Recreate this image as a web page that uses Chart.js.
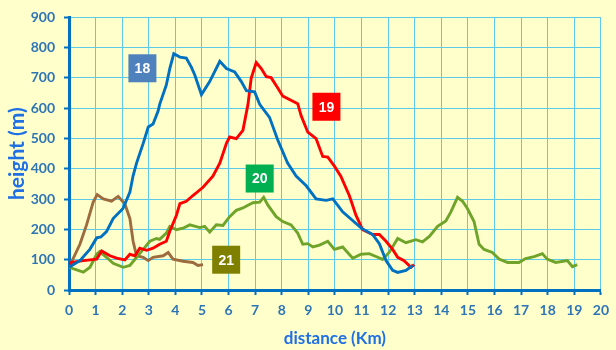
<!DOCTYPE html>
<html>
<head>
<meta charset="utf-8">
<title>Route profiles</title>
<script src="https://cdn.jsdelivr.net/npm/chart.js@4.4.1/dist/chart.umd.min.js"></script>
<style>
  html, body { margin: 0; padding: 0; background: #FFFFCC; }
  #wrap { width: 616px; height: 350px; }
</style>
</head>
<body>
<div id="wrap"><canvas id="profileChart" width="616" height="350"></canvas></div>
<script>
// =============================================
// DATA - distance (km) / height (m) per route
// =============================================
const dist18 = [0, 0.41, 0.79, 1.04, 1.2, 1.41, 1.66, 2.03, 2.29, 2.41, 2.54, 2.79, 2.98, 3.16, 3.35, 3.41, 3.66, 3.79, 3.94, 4.17, 4.41, 4.6, 4.73, 4.98, 5.29, 5.67, 5.92, 6.23, 6.48, 6.67, 6.98, 7.17, 7.54, 7.85, 8.22, 8.54, 8.92, 9.29, 9.67, 9.92, 10.29, 10.98, 11.42, 11.67, 11.92, 12.17, 12.36, 12.67, 12.92];
const height18 = [75, 97, 135, 172, 175, 193, 236, 269, 323, 377, 419, 484, 538, 548, 591, 613, 677, 731, 780, 769, 766, 736, 710, 645, 688, 755, 731, 720, 688, 658, 654, 613, 570, 495, 419, 376, 344, 301, 296, 301, 258, 205, 183, 153, 97, 65, 58, 65, 81];

const dist19 = [0, 0.1, 0.54, 1.04, 1.23, 1.54, 1.79, 2.1, 2.29, 2.48, 2.66, 2.92, 3.16, 3.41, 3.66, 3.79, 4.04, 4.17, 4.41, 4.66, 5.04, 5.41, 5.67, 5.92, 6.04, 6.29, 6.54, 6.73, 6.85, 7.04, 7.23, 7.42, 7.6, 7.85, 8.04, 8.29, 8.6, 8.73, 8.98, 9.29, 9.54, 9.73, 9.98, 10.22, 10.54, 10.79, 11.04, 11.42, 11.67, 11.92, 12.17, 12.36, 12.6, 12.86, 12.98];
const height19 = [85, 91, 97, 102, 129, 113, 105, 99, 118, 113, 138, 131, 138, 151, 161, 194, 247, 285, 293, 312, 339, 376, 419, 484, 505, 500, 527, 613, 699, 751, 731, 704, 701, 667, 640, 629, 615, 575, 521, 500, 441, 439, 409, 376, 312, 247, 199, 183, 183, 161, 134, 108, 97, 75, 84];

const dist20 = [0, 0.54, 0.79, 1.04, 1.16, 1.41, 1.66, 2.04, 2.29, 2.54, 2.79, 3.04, 3.29, 3.41, 3.66, 3.79, 4.04, 4.29, 4.54, 4.92, 5.1, 5.29, 5.54, 5.79, 6.04, 6.29, 6.54, 6.73, 6.92, 7.17, 7.32, 7.48, 7.79, 8.04, 8.35, 8.6, 8.79, 8.98, 9.17, 9.42, 9.73, 9.98, 10.29, 10.67, 10.98, 11.29, 11.61, 11.79, 12.04, 12.36, 12.67, 13.04, 13.29, 13.55, 13.86, 14.17, 14.36, 14.61, 14.8, 14.98, 15.23, 15.42, 15.61, 15.92, 16.17, 16.49, 16.92, 17.17, 17.49, 17.8, 17.98, 18.3, 18.74, 18.93, 19.11];
const height20 = [75, 59, 75, 118, 127, 108, 88, 75, 81, 108, 134, 161, 170, 167, 188, 210, 199, 204, 215, 206, 210, 191, 215, 213, 242, 263, 271, 280, 288, 290, 306, 280, 242, 226, 215, 188, 151, 153, 142, 148, 161, 134, 142, 105, 118, 120, 108, 101, 124, 170, 156, 166, 159, 177, 210, 228, 258, 306, 293, 269, 226, 151, 134, 124, 102, 91, 91, 104, 110, 120, 102, 91, 97, 77, 84];

const dist21 = [0, 0.41, 0.66, 0.91, 1.06, 1.29, 1.6, 1.85, 2.1, 2.29, 2.41, 2.54, 2.79, 2.98, 3.16, 3.54, 3.73, 3.91, 4.29, 4.66, 4.85, 5.04];
const height21 = [75, 151, 215, 290, 315, 301, 293, 309, 285, 236, 161, 113, 108, 97, 108, 113, 124, 102, 95, 91, 81, 84];

// route tags and where they sit (in km / m)
const routeNames = ["18", "19", "20", "21"];
const tagDist = [2.76, 9.68, 7.17, 5.91];
const tagHeight = [732, 605, 368, 100];

const xTicks = { min: 0, max: 20, step: 1 };
const yTicks = { min: 0, max: 900, step: 100 };

// =============================================
// STYLE
// =============================================
const lineColors = ["#0070C0", "#FF0000", "#70A32A", "#9E6B3E"];
const tagColors = ["#4F81BD", "#FF0000", "#00B050", "#808000"];
const axisBlue = "#0070C0";
const tickBlue = "#2E75B6";
const titleBlue = "#1F6FE5";
const gridCyan = "#5CCBEA";

function toPoints(xs, ys) {
    return xs.map((x, i) => ({ x: x, y: ys[i] }));
}

const series = [
    toPoints(dist18, height18),
    toPoints(dist19, height19),
    toPoints(dist20, height20),
    toPoints(dist21, height21)
];

// draws the little numbered squares
const routeTags = {
    id: "routeTags",
    afterDatasetsDraw(chart) {
        const { ctx, scales } = chart;
        ctx.save();
        routeNames.forEach((name, i) => {
            const cx = scales.x.getPixelForValue(tagDist[i]);
            const cy = scales.y.getPixelForValue(tagHeight[i]);
            ctx.fillStyle = tagColors[i];
            ctx.fillRect(cx - 14, cy - 14, 28, 28);
            ctx.fillStyle = "#FFFFFF";
            ctx.font = "bold 14px 'Liberation Sans', Arial, sans-serif";
            ctx.textAlign = "center";
            ctx.textBaseline = "middle";
            ctx.fillText(name, cx, cy + 1);
        });
        ctx.restore();
    }
};

const tickFont = { family: "Lato", size: 14, weight: "bold" };

new Chart(document.getElementById("profileChart"), {
    type: "line",
    data: {
        datasets: series.map((pts, i) => ({
            label: routeNames[i],
            data: pts,
            borderColor: lineColors[i],
            borderWidth: 2.9,
            pointRadius: 0,
            tension: 0,
            fill: false
        }))
    },
    options: {
        responsive: false,
        animation: false,
        layout: { padding: { top: 11, right: 14, left: 0, bottom: 0 } },
        plugins: {
            legend: { display: false },
            tooltip: { enabled: false }
        },
        scales: {
            x: {
                type: "linear",
                min: xTicks.min,
                max: xTicks.max,
                afterFit(scale) { scale.height = 60; },
                ticks: { stepSize: xTicks.step, color: tickBlue, font: tickFont, padding: 7 },
                grid: { color: gridCyan, lineWidth: 1, tickColor: axisBlue, tickLength: 5, tickWidth: 2 },
                border: { color: axisBlue, width: 3 },
                title: {
                    display: true,
                    text: "distance (Km)",
                    color: titleBlue,
                    font: { family: "Lato", size: 17, weight: "bold" },
                    padding: { top: 0, bottom: 1 }
                }
            },
            y: {
                min: yTicks.min,
                max: yTicks.max,
                afterFit(scale) { scale.width = 69; },
                ticks: { stepSize: yTicks.step, color: tickBlue, font: tickFont, padding: 9 },
                grid: { color: gridCyan, lineWidth: 1, tickColor: axisBlue, tickLength: 5, tickWidth: 2 },
                border: { color: axisBlue, width: 3 },
                title: {
                    display: true,
                    text: "height (m)",
                    color: titleBlue,
                    font: { family: "Lato", size: 21, weight: "bold" },
                    padding: { top: 5, bottom: 0 }
                }
            }
        }
    },
    plugins: [routeTags]
});
</script>
</body>
</html>
